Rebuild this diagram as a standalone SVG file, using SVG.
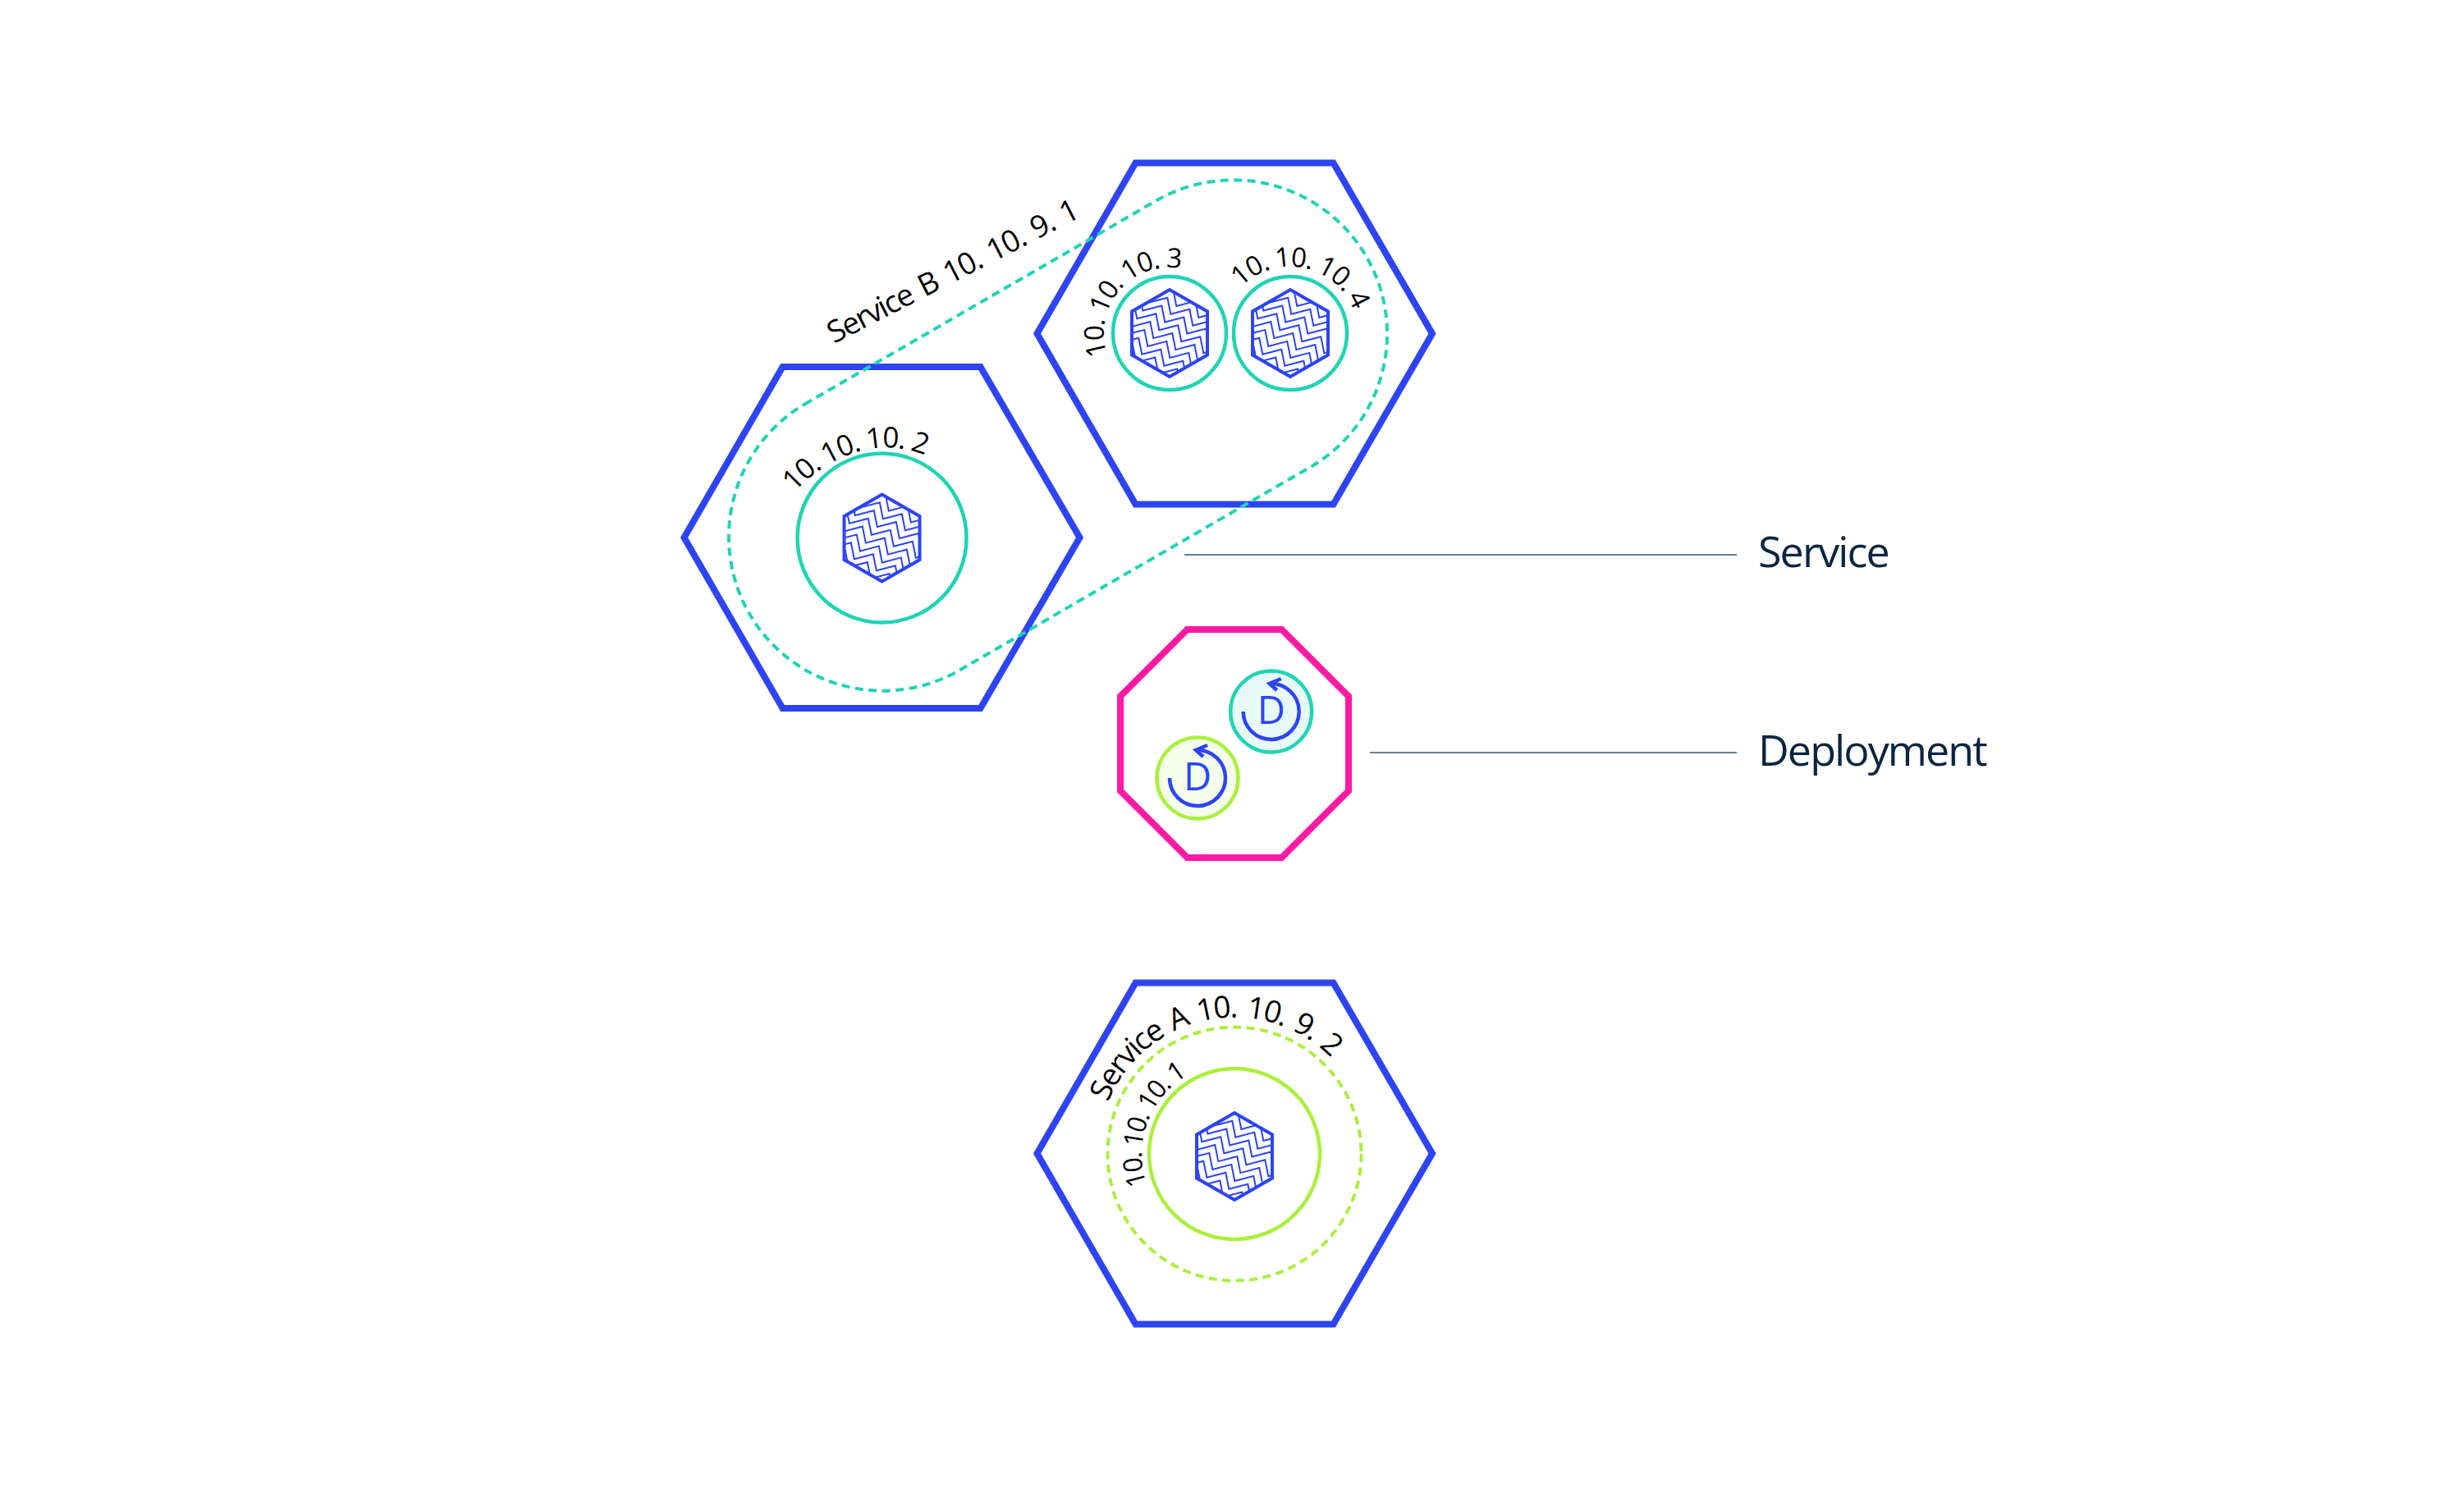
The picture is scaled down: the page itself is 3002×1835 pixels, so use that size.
<svg xmlns="http://www.w3.org/2000/svg" width="3002" height="1835" viewBox="0 0 3002 1835">
<style>
.bg{fill:#fff}
.node{fill:none;stroke:#2d44f5;stroke-width:8}
.ring{fill:none;stroke-width:4.5}
.teal{stroke:#1fd4b4}
.green{stroke:#aaf03c}
.dash{fill:none;stroke-width:4;stroke-dasharray:10 6.5}
.ip{font-family:"Open Sans","Noto Sans",sans-serif;font-size:37px;fill:#000;letter-spacing:-2px;word-spacing:4px}
.s{font-size:33px;letter-spacing:-1.4px;word-spacing:0}
.t{font-size:32px;letter-spacing:-2px;word-spacing:0}
.label{font-family:"Open Sans","Noto Sans",sans-serif;font-size:52px;fill:#0a2540;letter-spacing:-1.9px}
.leader{stroke:#0a2540;stroke-width:2;fill:none;opacity:.6}
.d{font-family:"Open Sans","Noto Sans",sans-serif;font-size:47px;fill:#2d44f5;text-anchor:middle}
.arc{fill:none;stroke:#2d44f5;stroke-width:4.500}
</style>
<defs>
<clipPath id="hexclip"><polygon points="0,-53 46,-26.5 46,26.5 0,53 -46,26.5 -46,-26.5"/></clipPath>
<path id="stair" d="M-147.700,-73.700 l23,-6 l4,20 l23,-6 l4,20 l23,-6 l4,20 l23,-6 l4,20 l23,-6 l4,20 l23,-6 l4,20 l23,-6 l4,20 l23,-6 l4,20 l23,-6 l4,20 l23,-6 l4,20" fill="none" stroke="#2d44f5" stroke-width="2"/>
<g id="pod">
<polygon points="0,-53 46,-26.5 46,26.5 0,53 -46,26.5 -46,-26.5" fill="#fff"/>
<g clip-path="url(#hexclip)">
<use href="#stair" x="-56" y="78.400"/><use href="#stair" x="-49" y="68.600"/><use href="#stair" x="-42" y="58.800"/><use href="#stair" x="-35" y="49"/><use href="#stair" x="-28" y="39.200"/><use href="#stair" x="-21" y="29.400"/><use href="#stair" x="-14" y="19.600"/><use href="#stair" x="-7" y="9.800"/><use href="#stair"/><use href="#stair" x="7" y="-9.800"/><use href="#stair" x="14" y="-19.600"/><use href="#stair" x="21" y="-29.400"/><use href="#stair" x="28" y="-39.200"/><use href="#stair" x="35" y="-49"/><use href="#stair" x="42" y="-58.800"/><use href="#stair" x="49" y="-68.600"/><use href="#stair" x="56" y="-78.400"/>
</g>
<polygon points="0,-53 46,-26.5 46,26.5 0,53 -46,26.5 -46,-26.5" fill="none" stroke="#2d44f5" stroke-width="4"/>
</g>
<g id="deployIcon">
<path class="arc" d="M-34,0 A34,34 0 1 0 -1,-34"/>
<path class="arc" d="M12,-40 L-2,-34 L7,-26"/>
<text class="d" x="0" y="15">D</text>
</g>
<path id="pB" d="M1016,419 L1333,256"/>
<path id="p2" d="M968,600 C996,568 1060,525 1130,556"/>
<path id="p3" d="M1349,432 A80,80 0 0 1 1438,327"/>
<path id="p4" d="M1512,350 A83,83 0 0 1 1648,375"/>
<path id="p1" d="M1397,1443 A112,112 0 0 1 1445,1311"/>
<path id="pA" d="M1350,1343 A166,166 0 0 1 1625,1292"/>
</defs>
<rect class="bg" width="3002" height="1835"/>
<g id="node-hex-left"><polygon class="node" points="833.500,655 953.500,447 1194.500,447 1315.500,655 1194.500,863 953.500,863"/></g>
<g id="node-hex-top"><polygon class="node" points="1263.500,406.500 1383.500,198.500 1624.500,198.500 1745,406.500 1624.500,614.500 1383.500,614.500"/></g>
<g id="node-hex-bottom"><polygon class="node" points="1263.500,1405.500 1383.500,1197.500 1624.500,1197.500 1745,1405.500 1624.500,1613.500 1383.500,1613.500"/></g>
<g id="node-service-b"><path class="dash teal" d="M980.300,492.600 L1410.300,243.600 A187.500,187.500 0 0 1 1597.700,568.400 L1167.700,817.400 A187.500,187.500 0 0 1 980.300,492.600 Z"/><text class="ip" style="letter-spacing:-1.5px"><textPath href="#pB">Service B 10. 10. 9. 1</textPath></text></g>
<g id="node-pod-2"><circle class="ring teal" cx="1074.500" cy="655.500" r="103"/><use href="#pod" x="1074.500" y="655.500"/><text class="ip" style="font-size:35px;letter-spacing:-1.5px;word-spacing:0"><textPath href="#p2">10. 10. 10. 2</textPath></text></g>
<g id="node-pod-3"><circle class="ring teal" cx="1425" cy="406" r="69"/><use href="#pod" x="1425" y="406"/><text class="ip s"><textPath href="#p3">10. 10. 10. 3</textPath></text></g>
<g id="node-pod-4"><circle class="ring teal" cx="1572" cy="406" r="69"/><use href="#pod" x="1572" y="406"/><text class="ip s"><textPath href="#p4">10. 10. 10. 4</textPath></text></g>
<g id="node-service-a"><circle class="dash green" cx="1504" cy="1406" r="154.500"/><text class="ip"><textPath href="#pA">Service A 10. 10. 9. 2</textPath></text></g>
<g id="node-pod-1"><circle class="ring green" cx="1504" cy="1406" r="104"/><use href="#pod" x="1504" y="1409"/><text class="ip t"><textPath href="#p1">10. 10. 10. 1</textPath></text></g>
<g id="node-deployment">
<polygon fill="none" stroke="#ff1aa3" stroke-width="8" points="1446.500,767 1561.500,767 1643,848.500 1643,963.500 1561.500,1045 1446.500,1045 1365,963.500 1365,848.500"/>
<circle class="ring teal" cx="1548.700" cy="867" r="49.500" style="fill:#e8faf6"/>
<use href="#deployIcon" x="1548.700" y="867"/>
<circle class="ring green" cx="1459" cy="948" r="49.500" style="fill:#f4fcea"/>
<use href="#deployIcon" x="1459" y="948"/>
</g>
<g id="connectors">
<line class="leader" x1="1443" y1="676" x2="2116" y2="676"/>
<line class="leader" x1="1669" y1="917" x2="2116" y2="917"/>
</g>
<g id="node-label-service"><text class="label" x="2142" y="691">Service</text></g>
<g id="node-label-deployment"><text class="label" x="2142" y="933">Deployment</text></g>
</svg>
